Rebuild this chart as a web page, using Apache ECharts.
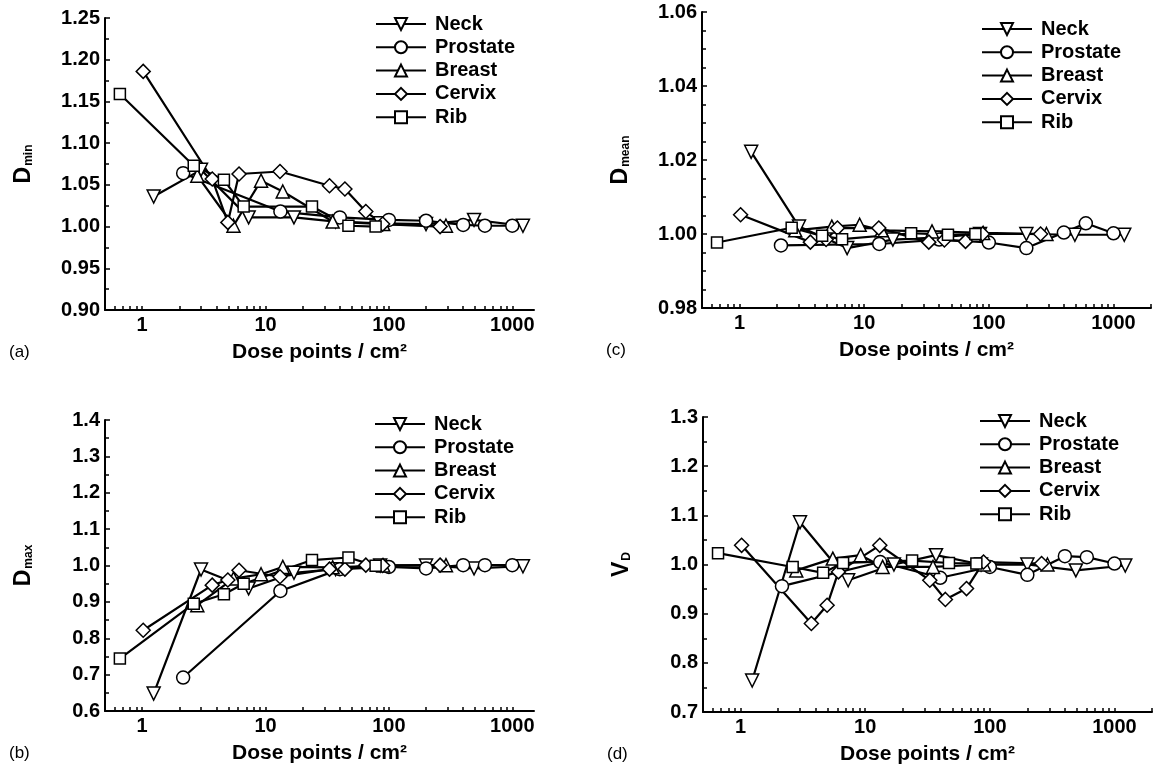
<!DOCTYPE html>
<html>
<head>
<meta charset="utf-8">
<script src="https://cdn.jsdelivr.net/npm/echarts@6/dist/echarts.min.js"></script>
<style>
    html, body { margin: 0; padding: 0; background: #fff; }
    #chart { width: 1153px; height: 772px; }
</style>
</head>
<body>
<div id="chart"></div>
<script>
// dose point densities (points / cm2) for each phantom
const names = ['Neck', 'Prostate', 'Breast', 'Cervix', 'Rib'];
const neckX = [1.24, 3.0, 7.3, 17, 37, 85, 200, 490, 1220];
const prostateX = [2.15, 13.2, 40, 100, 200, 400, 600, 1000];
const breastX = [2.8, 5.5, 9.2, 13.8, 35, 90, 290];
const cervixX = [1.02, 3.7, 4.95, 6.1, 13.1, 33, 44, 65, 89, 260];
const ribX = [0.66, 2.62, 4.6, 6.65, 23.8, 47, 78];

// (a) D_min
const dminNeck = [1.036, 1.068, 1.011, 1.011, 1.006, 1.004, 1.003, 1.008, 1.001];
const dminProstate = [1.064, 1.018, 1.011, 1.008, 1.007, 1.002, 1.001, 1.001];
const dminBreast = [1.061, 1.001, 1.055, 1.042, 1.006, 1.003, 1.001];
const dminCervix = [1.186, 1.057, 1.005, 1.063, 1.066, 1.049, 1.045, 1.018, 1.003, 1.000];
const dminRib = [1.159, 1.073, 1.056, 1.024, 1.024, 1.001, 1.000];

// (c) D_mean
const dmeanNeck = [1.0222, 1.002, 0.9962, 0.9985, 0.999, 1.0, 1.0, 0.9998, 0.9998];
const dmeanProstate = [0.9969, 0.9973, 0.9985, 0.9977, 0.9962, 1.0004, 1.0029, 1.0002];
const dmeanBreast = [1.001, 1.002, 1.0025, 1.001, 1.0007, 1.0003, 1.0];
const dmeanCervix = [1.0052, 0.9978, 0.9985, 1.0016, 1.0016, 0.9978, 0.9984, 0.998, 1.0, 1.0];
const dmeanRib = [0.9977, 1.0017, 0.9995, 0.9986, 1.0002, 0.9998, 1.0];

// (b) D_max
const dmaxNeck = [0.648, 0.989, 0.937, 0.98, 0.99, 1.0, 1.0, 0.992, 0.998];
const dmaxProstate = [0.692, 0.930, 0.99, 0.996, 0.992, 1.001, 1.001, 1.001];
const dmaxBreast = [0.891, 0.964, 0.976, 0.996, 0.995, 1.0, 1.001];
const dmaxCervix = [0.822, 0.946, 0.96, 0.987, 0.969, 0.990, 0.990, 1.001, 1.0, 1.001];
const dmaxRib = [0.744, 0.895, 0.921, 0.950, 1.015, 1.022, 0.999];

// (d) V_D
const vdNeck = [0.764, 1.086, 0.968, 1.0, 1.019, 1.0, 1.0, 0.988, 0.998];
const vdProstate = [0.956, 1.005, 0.973, 0.995, 0.979, 1.017, 1.015, 1.002];
const vdBreast = [0.988, 1.012, 1.019, 0.995, 0.995, 1.0, 1.0];
const vdCervix = [1.039, 0.880, 0.917, 0.985, 1.039, 0.968, 0.929, 0.951, 1.005, 1.002];
const vdRib = [1.023, 0.995, 0.983, 1.003, 1.008, 1.003, 1.002];

const xLabels = [1, 10, 100, 1000];

let myChart = echarts.init(document.getElementById('chart'));
const FONT = '"Liberation Sans", Arial, sans-serif';

// log ticks 2..9 in every decade
let xTicks = [];
[0.1, 1, 10, 100, 1000].forEach(function (d) {
    for (let k = 1; k < 10; k++) {
        let v = +(d * k).toPrecision(3);
        if (v >= 0.5 && v <= 2000) xTicks.push(v);
    }
});

const symbols = [
    { symbol: 'triangle', size: 13, rotate: 180 },
    { symbol: 'circle', size: 13, rotate: 0 },
    { symbol: 'triangle', size: 13, rotate: 0 },
    { symbol: 'diamond', size: 14, rotate: 0 },
    { symbol: 'rect', size: 11, rotate: 0 }
];
const xs = [neckX, prostateX, breastX, cervixX, ribX];

const panels = [
    { grid: { left: 105, top: 18, width: 429, height: 292 }, min: 0.90, max: 1.25, step: 0.05, dec: 2, minor: 2, xmax: 1500,
      name: '{d|D}{s|min}', tag: '(a)', ys: [dminNeck, dminProstate, dminBreast, dminCervix, dminRib], legend: { left: 370, top: 9 } },
    { grid: { left: 702, top: 12, width: 449, height: 296 }, min: 0.98, max: 1.06, step: 0.02, dec: 2, minor: 4, xmax: 2000,
      name: '{d|D}{s|mean}', tag: '(c)', ys: [dmeanNeck, dmeanProstate, dmeanBreast, dmeanCervix, dmeanRib], legend: { left: 976, top: 14 } },
    { grid: { left: 105, top: 420, width: 429, height: 291 }, min: 0.6, max: 1.4, step: 0.1, dec: 1, minor: 2, xmax: 1500,
      name: '{d|D}{s|max}', tag: '(b)', ys: [dmaxNeck, dmaxProstate, dmaxBreast, dmaxCervix, dmaxRib], legend: { left: 369, top: 409 } },
    { grid: { left: 703, top: 417, width: 449, height: 295 }, min: 0.7, max: 1.3, step: 0.1, dec: 1, minor: 2, xmax: 2000,
      name: '{d|V}{s|D}', tag: '(d)', ys: [vdNeck, vdProstate, vdBreast, vdCervix, vdRib], legend: { left: 974, top: 406 } }
];

let grids = [], xAxes = [], yAxes = [], series = [], legends = [], titles = [];
panels.forEach(function (p, gi) {
    grids.push(p.grid);
    xAxes.push({
        type: 'log', logBase: 10, gridIndex: gi, min: 0.5, max: p.xmax,
        axisLine: { lineStyle: { color: '#000', width: 2 } },
        axisTick: { inside: true, length: 4, customValues: xTicks, lineStyle: { color: '#000', width: 1.5 } },
        axisLabel: {
            customValues: xLabels, color: '#000', fontSize: 20, fontWeight: 'bold', fontFamily: FONT, margin: 5,
            formatter: function (v) { return String(Math.round(v)); }
        },
        splitLine: { show: false },
        name: 'Dose points / cm\u00b2', nameLocation: 'middle', nameGap: 32,
        nameTextStyle: { color: '#000', fontSize: 21, fontWeight: 'bold', fontFamily: FONT }
    });
    yAxes.push({
        type: 'value', gridIndex: gi, min: p.min, max: p.max, interval: p.step,
        axisLine: { show: true, lineStyle: { color: '#000', width: 2 } },
        axisTick: { show: true, inside: true, length: 5, lineStyle: { color: '#000', width: 1.5 } },
        minorTick: { show: true, splitNumber: p.minor, length: 4, lineStyle: { color: '#000', width: 1.5 } },
        axisLabel: {
            color: '#000', fontSize: 20, fontWeight: 'bold', fontFamily: FONT, margin: 5,
            formatter: function (v) { return v.toFixed(p.dec); }
        },
        splitLine: { show: false },
        name: p.name, nameLocation: 'middle', nameRotate: 90, nameGap: 70,
        nameTextStyle: {
            rich: {
                d: { fontSize: 23, fontWeight: 'bold', color: '#000', fontFamily: FONT, verticalAlign: 'bottom' },
                s: { fontSize: 12, fontWeight: 'bold', color: '#000', fontFamily: FONT, verticalAlign: 'bottom', padding: [0, 0, 0, 1] }
            }
        }
    });
    names.forEach(function (n, si) {
        series.push({
            name: n, type: 'line', xAxisIndex: gi, yAxisIndex: gi,
            data: xs[si].map(function (x, i) { return [x, p.ys[si][i]]; }),
            symbol: symbols[si].symbol, symbolSize: symbols[si].size, symbolRotate: symbols[si].rotate,
            showAllSymbol: true,
            lineStyle: { color: '#000', width: 2.2 },
            itemStyle: { color: '#fff', borderColor: '#000', borderWidth: 1.5 },
            emphasis: { disabled: true },
            animation: false
        });
    });
    legends.push({
        data: names, orient: 'vertical', left: p.legend.left, top: p.legend.top,
        itemWidth: 50, itemHeight: 15, itemGap: 3.3, selectedMode: false,
        textStyle: { color: '#000', fontSize: 20, fontWeight: 'bold', fontFamily: FONT, padding: [0, 0, 0, 4] }
    });
    titles.push({
        text: p.tag, left: p.grid.left - 101, top: p.grid.top + p.grid.height + 29,
        textStyle: { color: '#000', fontSize: 17, fontWeight: 'normal', fontFamily: FONT }
    });
});

myChart.setOption({
    backgroundColor: '#fff',
    animation: false,
    title: titles,
    legend: legends,
    grid: grids,
    xAxis: xAxes,
    yAxis: yAxes,
    series: series
});
</script>
</body>
</html>
